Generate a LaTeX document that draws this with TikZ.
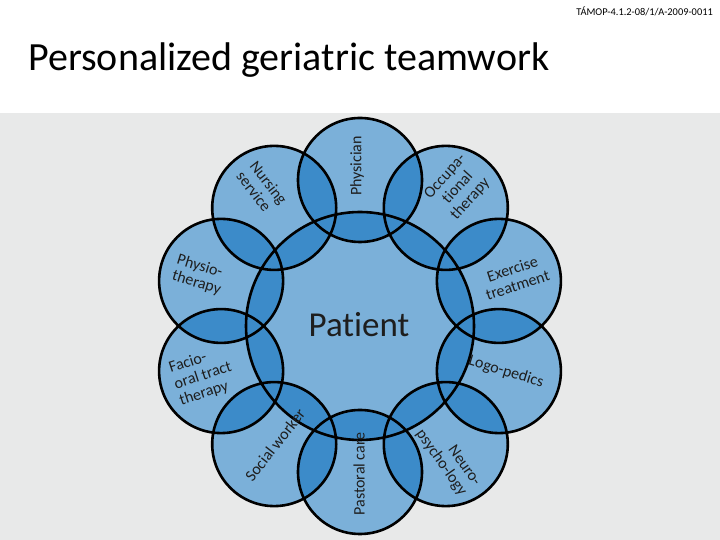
\documentclass[tikz,border=0pt]{standalone}
\usepackage{fontspec}
\setmainfont{Carlito}[Ligatures=CommonOff]
\definecolor{bgray}{HTML}{E8E9E9}
\definecolor{lightblue}{HTML}{7BB0D9}
\definecolor{darkblue}{HTML}{3C8BC9}
\definecolor{inkgray}{HTML}{1E1E1E}
\begin{document}
\begin{tikzpicture}[x=1pt,y=1pt]
    \useasboundingbox (0,0) rectangle (720,540);
    \fill[bgray] (0,0) rectangle (720,427);

    \begin{scope}[inner sep=0pt]
      \tikzstyle{every node}=[circle,fill=lightblue,minimum size=124pt]
      \node[minimum size=228pt] (pat) at (360  ,214) {};
      \node (phys)   at (360  ,360) {};
      \node (occ)    at (445.8,332.1) {};
      \node (exer)   at (498.9,259.1) {};
      \node (logo)   at (498.9,168.9) {};
      \node (neuro)  at (445.8,95.9) {};
      \node (past)   at (360  ,68) {};
      \node (soc)    at (274.2,95.9) {};
      \node (facio)  at (221.1,168.9) {};
      \node (physio) at (221.1,259.1) {};
      \node (nurs)   at (274.2,332.1) {};
    \end{scope}

    % overlaps of each member with its neighbour and the patient
    \begin{scope} \clip (phys.center) circle (62);   \fill[darkblue] (occ.center) circle (62) (pat.center) circle (114); \end{scope}
    \begin{scope} \clip (occ.center) circle (62);    \fill[darkblue] (exer.center) circle (62) (pat.center) circle (114); \end{scope}
    \begin{scope} \clip (exer.center) circle (62);   \fill[darkblue] (logo.center) circle (62) (pat.center) circle (114); \end{scope}
    \begin{scope} \clip (logo.center) circle (62);   \fill[darkblue] (neuro.center) circle (62) (pat.center) circle (114); \end{scope}
    \begin{scope} \clip (neuro.center) circle (62);  \fill[darkblue] (past.center) circle (62) (pat.center) circle (114); \end{scope}
    \begin{scope} \clip (past.center) circle (62);   \fill[darkblue] (soc.center) circle (62) (pat.center) circle (114); \end{scope}
    \begin{scope} \clip (soc.center) circle (62);    \fill[darkblue] (facio.center) circle (62) (pat.center) circle (114); \end{scope}
    \begin{scope} \clip (facio.center) circle (62);  \fill[darkblue] (physio.center) circle (62) (pat.center) circle (114); \end{scope}
    \begin{scope} \clip (physio.center) circle (62); \fill[darkblue] (nurs.center) circle (62) (pat.center) circle (114); \end{scope}
    \begin{scope} \clip (nurs.center) circle (62);   \fill[darkblue] (phys.center) circle (62) (pat.center) circle (114); \end{scope}

    \draw[line width=2.6pt] (pat.center) circle (114)
      (phys.center) circle (62) (occ.center) circle (62) (exer.center) circle (62) (logo.center) circle (62) (neuro.center) circle (62)
      (past.center) circle (62) (soc.center) circle (62) (facio.center) circle (62) (physio.center) circle (62) (nurs.center) circle (62);

    \begin{scope}[text=inkgray,inner sep=0pt]
      \tikzstyle{every node}=[font=\fontsize{16}{17}\selectfont]
      \node[rotate=90]              (tphys)   at (357,374) {Physician};
      \node[rotate=-52,align=left]  (tnurs)   at (262,352) {Nursing\\service};
      \node[rotate=48,align=center] (tocc)    at (458,352) {Occupa-\\tional\\therapy};
      \node[rotate=-17,align=left]  (tphysio) at (199,265) {Physio-\\therapy};
      \node[rotate=18,align=center] (texer)   at (515,263) {Exercise\\treatment};
      \node[rotate=18,align=left]   (tfacio)  at (203,164) {Facio-\\oral tract\\therapy};
      \node[rotate=-17]             (tlogo)   at (506,168) {Logo-pedics};
      \node[rotate=52]              (tsoc)    at (275,95)  {Social worker};
      \node[rotate=90]              (tpast)   at (359,66)  {Pastoral care};
      \node[rotate=-55,align=right] (tneuro)  at (448,82)  {Neuro-\\psycho-logy};
      \node[font=\fontsize{35}{40}\selectfont] (tpat) at (359,215) {Patient};
    \end{scope}

    \node[anchor=base west,inner sep=0pt,font=\fontsize{40}{44}\selectfont] (title) at (28,469) {Personalized geriatric teamwork};
    \node[anchor=east,inner sep=0pt,font=\fontsize{10.4}{11}\selectfont] (proj) at (713,529) {TÁMOP-4.1.2-08/1/A-2009-0011};
  \end{tikzpicture}
\end{document}
